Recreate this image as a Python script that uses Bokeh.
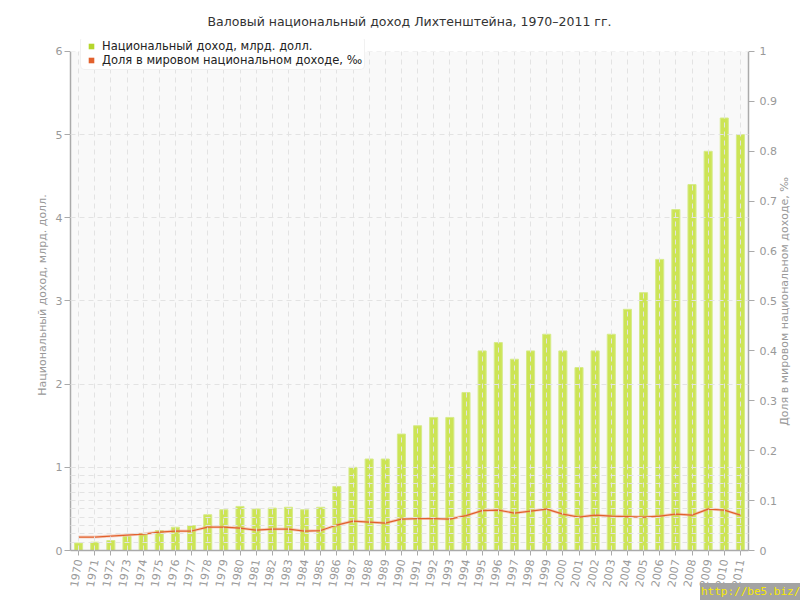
from bokeh.plotting import figure
from bokeh.models import (Range1d, LinearAxis, FixedTicker, Grid, BoxAnnotation,
                          Legend, LegendItem, ColumnDataSource, Div)
from bokeh.layouts import column
from bokeh.embed import file_html
from bokeh.resources import INLINE
from math import radians, pi

title_text = "Валовый национальный доход Лихтенштейна, 1970–2011 гг."
left_label = "Национальный доход, млрд. долл."
right_label = "Доля в мировом национальном доходе, ‰"
series_income = "Национальный доход, млрд. долл."
series_share = "Доля в мировом национальном доходе, ‰"
watermark = "http://be5.biz/"

years = [str(y) for y in range(1970, 2012)]
income = [0.09, 0.10, 0.12, 0.17, 0.20, 0.24, 0.28, 0.30, 0.43, 0.49,
          0.53, 0.50, 0.51, 0.52, 0.49, 0.52, 0.77, 1.0, 1.1, 1.1,
          1.4, 1.5, 1.6, 1.6, 1.9, 2.4, 2.5, 2.3, 2.4, 2.6,
          2.4, 2.2, 2.4, 2.6, 2.9, 3.1, 3.5, 4.1, 4.4, 4.8,
          5.2, 5.0]
share = [0.027, 0.027, 0.029, 0.031, 0.033, 0.037, 0.039, 0.039, 0.047, 0.047,
         0.045, 0.041, 0.043, 0.043, 0.039, 0.040, 0.051, 0.059, 0.057, 0.055,
         0.063, 0.064, 0.064, 0.063, 0.070, 0.080, 0.081, 0.075, 0.079, 0.083,
         0.073, 0.067, 0.071, 0.069, 0.068, 0.067, 0.069, 0.073, 0.071, 0.083,
         0.081, 0.071]
left_ticks = [0, 1, 2, 3, 4, 5, 6]
right_ticks = [0, 0.1, 0.2, 0.3, 0.4, 0.5, 0.6, 0.7, 0.8, 0.9, 1]
left_max = 6
right_max = 1
# headroom above the axes' maxima so the legend can overlap the top edge
head = 12 / 500

src = ColumnDataSource(dict(year=years, income=income, share=share))

FONT = "DejaVu Sans"
GRAY = "#999999"
GRID = "#e3e3e3"

p = figure(width=800, height=600, x_range=years,
           y_range=Range1d(0, left_max * (1 + head)),
           output_backend="svg", toolbar_location=None,
           min_border_left=70, min_border_right=50, min_border_top=38, min_border_bottom=50)
p.extra_y_ranges = {"share": Range1d(0, right_max * (1 + head))}
p.x_range.range_padding = 0
p.background_fill_color = "white"
p.border_fill_color = "white"
p.outline_line_color = None

p.title.text = title_text
p.title.align = "center"
p.title.text_font = FONT
p.title.text_font_size = "12.5px"
p.title.text_font_style = "normal"
p.title.text_color = "#333333"
p.title.standoff = 22

# plot-area background up to the axis maximum
p.add_layout(BoxAnnotation(bottom=0, top=left_max, fill_color="#f9f9f9", fill_alpha=1,
                           line_color=None, level="underlay"))

# bars
p.vbar(x="year", top="income", width=0.5, source=src,
       fill_color="#c6e142", fill_alpha=0.9, line_color="#d6eb8a", line_width=1)
# share line with halo
p.line(x="year", y="share", source=src, y_range_name="share",
       line_color="#f0a080", line_width=3, line_alpha=0.45)
p.line(x="year", y="share", source=src, y_range_name="share",
       line_color="#e2612d", line_width=1.2)

def style_axis(ax):
    ax.axis_line_color = "#aaaaaa"
    ax.axis_line_width = 1.5
    ax.major_tick_line_color = "#aaaaaa"
    ax.major_tick_out = 6
    ax.major_tick_in = 0
    ax.minor_tick_line_color = None
    ax.major_label_text_color = GRAY
    ax.major_label_text_font = FONT
    ax.major_label_text_font_size = "11px"
    ax.axis_label_text_color = GRAY
    ax.axis_label_text_font = FONT
    ax.axis_label_text_font_size = "11px"
    ax.axis_label_text_font_style = "normal"

yl = p.yaxis[0]
yl.ticker = FixedTicker(ticks=left_ticks)
yl.bounds = (0, left_max)
yl.axis_label = left_label
style_axis(yl)
yl.major_label_standoff = 2
yl.axis_label_standoff = 4

yr = LinearAxis(y_range_name="share", ticker=FixedTicker(ticks=right_ticks),
                bounds=(0, right_max))
style_axis(yr)
yr.major_label_standoff = 5
p.add_layout(yr, "right")

# right-hand axis title, read bottom-to-top, starting at a quarter of the axis height
title_start = right_max * 0.25
yr_title = LinearAxis(y_range_name="share", ticker=FixedTicker(ticks=[title_start]),
                      major_label_overrides={title_start: right_label})
yr_title.axis_line_color = None
yr_title.major_tick_line_color = None
yr_title.minor_tick_line_color = None
yr_title.major_tick_out = 0
yr_title.major_label_standoff = 5
yr_title.major_label_orientation = pi / 2
yr_title.major_label_text_color = GRAY
yr_title.major_label_text_font = FONT
yr_title.major_label_text_font_size = "11px"
p.add_layout(yr_title, "right")

xa = p.xaxis[0]
style_axis(xa)
xa.major_label_orientation = radians(80)
xa.major_label_standoff = 4
xa.major_tick_out = 5

# grids (drawn over the bars)
p.xgrid.grid_line_color = GRID
p.xgrid.grid_line_dash = "5 4"
p.xgrid.level = "guide"
p.ygrid.grid_line_color = GRID
p.ygrid.grid_line_dash = "5 4"
p.ygrid.level = "guide"
g2 = Grid(dimension=1, axis=yr, grid_line_color=GRID, grid_line_dash="5 4")
g2.level = "guide"
p.add_layout(g2)

# blank strip above the axis maximum
p.add_layout(BoxAnnotation(bottom=left_max, fill_color="white", fill_alpha=1,
                           line_color=None, level="annotation"))

# legend (square markers; the renderers' own points have zero size)
r1 = p.scatter(x="year", y="income", source=src, size=0, marker="square",
               fill_color="#b5d62c", line_color=None)
r2 = p.scatter(x="year", y="income", source=src, size=0, marker="square",
               fill_color="#e2612d", line_color=None)
legend = Legend(items=[LegendItem(label=series_income, renderers=[r1]),
                       LegendItem(label=series_share, renderers=[r2])],
                location=(10, 480), padding=2, spacing=0, margin=0,
                label_text_font=FONT, label_text_font_size="11.5px", label_text_color="#222222",
                label_height=14, glyph_height=14, glyph_width=16, label_standoff=3,
                background_fill_color="white", background_fill_alpha=1,
                border_line_color="#e4e4e4")
try:
    legend.border_radius = 5
except Exception:
    pass
p.add_layout(legend, "center")

wm = Div(text=watermark, width=100, height=17, margin=(-17, 0, 0, 700),
         styles={"background-color": "#a3a3a3", "color": "#f7ea00",
                 "font-family": "DejaVu Sans Mono", "font-size": "11px",
                 "line-height": "17px", "white-space": "nowrap", "overflow": "hidden",
                 "padding-left": "1px"})

layout = column(p, wm, spacing=0)
open("out.html", "w").write(file_html(layout, INLINE))
